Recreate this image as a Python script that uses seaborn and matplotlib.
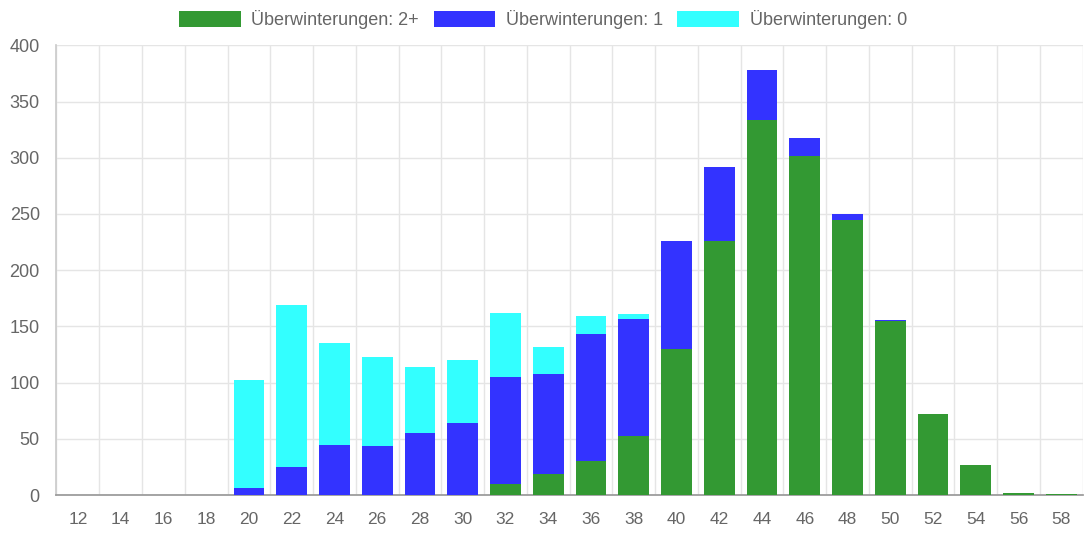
import seaborn as sns
import matplotlib.pyplot as plt
import numpy as np
import pandas as pd

categories = [str(v) for v in range(12, 60, 2)]
winter_2plus = [0, 0, 0, 0, 0, 0, 0, 0, 0, 0, 10, 19, 30, 53, 130, 226, 334, 302, 245, 155, 72, 27, 2, 1]
winter_1 = [0, 0, 0, 0, 6, 25, 45, 44, 55, 64, 95, 89, 113, 104, 96, 66, 44, 16, 5, 1, 0, 0, 0, 0]
winter_0 = [0, 0, 0, 0, 96, 144, 90, 79, 59, 56, 57, 24, 16, 4, 0, 0, 0, 0, 0, 0, 0, 0, 0, 0]

labels = ["Überwinterungen: 2+", "Überwinterungen: 1", "Überwinterungen: 0"]
colors = ["#339933", "#3333ff", "#33ffff"]

df = pd.DataFrame({"cat": categories, "w2": winter_2plus, "w1": winter_1, "w0": winter_0})

sns.set_theme(style="white")
plt.rcParams['font.family'] = ['Liberation Sans', 'DejaVu Sans']

fig, ax = plt.subplots(figsize=(10.86, 5.33), dpi=100)
fig.subplots_adjust(left=0.052, right=0.997, top=0.915, bottom=0.071)

base1 = np.array(winter_2plus)
base0 = base1 + np.array(winter_1)
bar_kw = dict(saturation=1, width=0.72, ax=ax, linewidth=0, edgecolor="none", zorder=3)
sns.barplot(data=df, x="cat", y="w2", color=colors[0], label=labels[0], **bar_kw)
sns.barplot(data=df, x="cat", y="w1", color=colors[1], label=labels[1], bottom=base1, **bar_kw)
sns.barplot(data=df, x="cat", y="w0", color=colors[2], label=labels[2], bottom=base0, **bar_kw)

ax.set_xlim(-0.5, len(categories) - 0.5)
ax.set_ylim(0, 400)
ax.set_yticks(range(0, 401, 50))
ax.set_xlabel("")
ax.set_ylabel("")

# grid lines between categories like chart.js
ax.set_xticks(np.arange(-0.5, len(categories), 1), minor=True)
ax.tick_params(axis="x", which="major", length=0, labelsize=12.5, labelcolor="#666666", pad=12)
ax.tick_params(axis="x", which="minor", length=9, color="#e0e0e0", width=1)
ax.tick_params(axis="y", which="major", length=8, color="#e0e0e0", labelsize=13, labelcolor="#666666", pad=4)
ax.grid(axis="x", which="minor", color="#e5e5e5", linewidth=1, zorder=0)
ax.grid(axis="y", which="major", color="#e5e5e5", linewidth=1, zorder=0)
ax.set_axisbelow(True)

for side in ["top", "right"]:
    ax.spines[side].set_visible(False)
ax.spines["left"].set_color("#cccccc")
ax.spines["bottom"].set_color("#999999")

# legend centred on the whole canvas, not the axes
ax.legend(loc="center", bbox_to_anchor=(0.5, 0.963), bbox_transform=fig.transFigure,
          ncol=3, frameon=False, handlelength=3.4, handleheight=1.0, fontsize=13,
          labelcolor="#666666", columnspacing=0.8, handletextpad=0.6, borderaxespad=0)

fig.savefig("out.png", dpi=100)
